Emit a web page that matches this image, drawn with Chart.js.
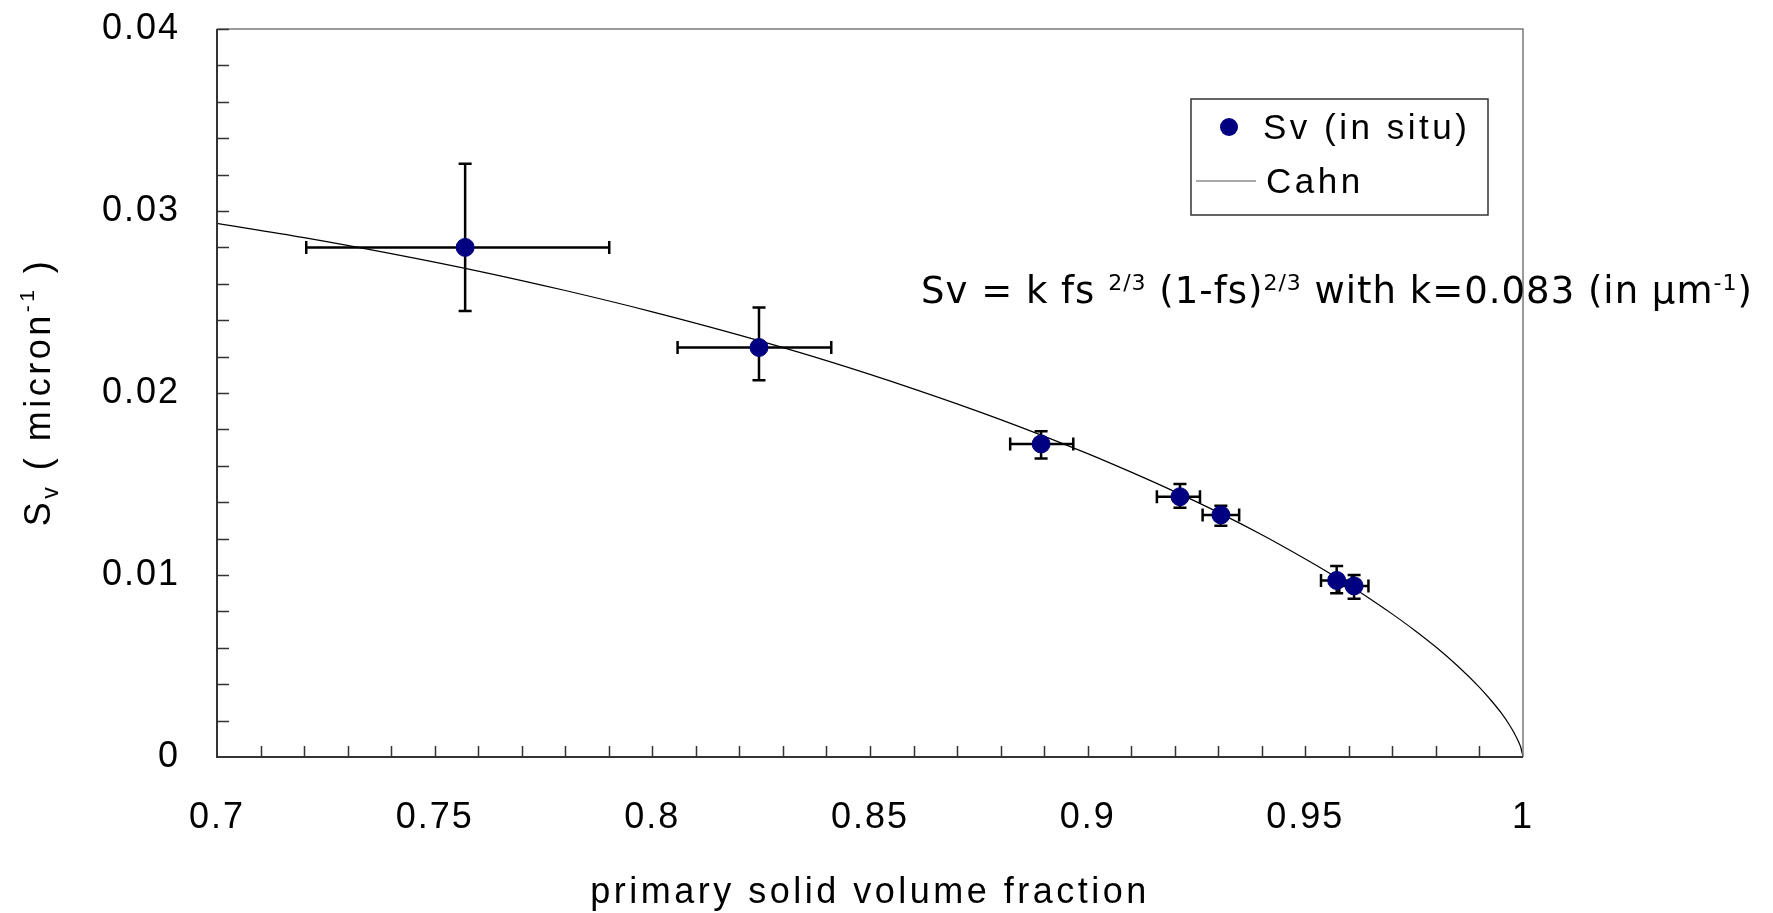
<!DOCTYPE html>
<html lang="en">
<head>
<meta charset="UTF-8">
<title>Sv vs primary solid volume fraction</title>
<script src="https://cdn.jsdelivr.net/npm/chart.js"></script>
<style>
  html, body { margin: 0; padding: 0; background: #fff; }
  .wrap { width: 1773px; height: 913px; position: relative; }
</style>
</head>
<body>
<div class="wrap"><canvas id="myChart"></canvas></div>
<script>
const fsValues = [0.757, 0.8245, 0.8893, 0.9212, 0.9306, 0.9572, 0.9612];
const svValues = [0.0280, 0.0225, 0.0172, 0.0143, 0.0133, 0.0097, 0.0094];
// error bar ends
const fsLow  = [0.7205, 0.8058, 0.8822, 0.9159, 0.9264, 0.9536, 0.9578];
const fsHigh = [0.7901, 0.8411, 0.8967, 0.9258, 0.9348, 0.9607, 0.9645];
const svLow  = [0.0245, 0.0207, 0.0164, 0.0137, 0.0127, 0.0090, 0.0087];
const svHigh = [0.0326, 0.0247, 0.0179, 0.0150, 0.0138, 0.0105, 0.0100];

// Cahn curve
const cahnFs = [0.70, 0.72, 0.74, 0.76, 0.78, 0.80, 0.82, 0.84, 0.86, 0.88, 0.90, 0.91, 0.92, 0.93, 0.94, 0.95, 0.955, 0.96, 0.965, 0.97, 0.975, 0.98, 0.985, 0.99, 0.9925, 0.995, 0.997, 0.998, 0.999, 0.9995, 1.0];
const cahnSv = [0.02932, 0.02854, 0.02766, 0.02670, 0.02563, 0.02446, 0.02318, 0.02178, 0.02023, 0.01854, 0.01667, 0.01565, 0.01458, 0.01344, 0.01221, 0.01088, 0.01018, 0.00945, 0.00867, 0.00785, 0.00698, 0.00604, 0.00500, 0.00383, 0.00316, 0.00242, 0.00172, 0.00131, 0.00083, 0.00052, 0];

// axis ticks
const xTickValues = [0.7, 0.75, 0.8, 0.85, 0.9, 0.95, 1.0];
const xTickLabels = ['0.7', '0.75', '0.8', '0.85', '0.9', '0.95', '1'];
const yTickValues = [0, 0.01, 0.02, 0.03, 0.04];
const yTickLabels = ['0', '0.01', '0.02', '0.03', '0.04'];

const FONT = '"Liberation Sans", Arial, sans-serif';
const NOTE_FONT = '"DejaVu Sans", sans-serif';
const NAVY = '#000080';

// draws a row of text pieces (for sub/superscripts)
function drawRuns(ctx, runs, x, y, family, spacing, center) {
  ctx.letterSpacing = spacing;
  let total = 0;
  runs.forEach(r => {
    ctx.font = r.size + 'px ' + family;
    r.w = ctx.measureText(r.t).width;
    total += r.w;
  });
  let cx = center ? x - total / 2 : x;
  runs.forEach(r => {
    ctx.font = r.size + 'px ' + family;
    ctx.fillText(r.t, cx, y + (r.dy || 0));
    cx += r.w;
  });
}

const decor = {
  id: 'decor',
  beforeDraw(chart) {
    chart.ctx.letterSpacing = '2px';
  },
  beforeDatasetsDraw(chart) {
    const { ctx, scales: { x, y } } = chart;
    const cap = 6.5;
    ctx.save();
    ctx.strokeStyle = '#000';
    ctx.lineWidth = 2.5;
    fsValues.forEach((fs, i) => {
      const px = x.getPixelForValue(fs);
      const py = y.getPixelForValue(svValues[i]);
      const x1 = x.getPixelForValue(fsLow[i]), x2 = x.getPixelForValue(fsHigh[i]);
      const y1 = y.getPixelForValue(svLow[i]), y2 = y.getPixelForValue(svHigh[i]);
      ctx.beginPath();
      ctx.moveTo(x1, py); ctx.lineTo(x2, py);
      ctx.moveTo(x1, py - cap); ctx.lineTo(x1, py + cap);
      ctx.moveTo(x2, py - cap); ctx.lineTo(x2, py + cap);
      ctx.moveTo(px, y1); ctx.lineTo(px, y2);
      ctx.moveTo(px - cap, y1); ctx.lineTo(px + cap, y1);
      ctx.moveTo(px - cap, y2); ctx.lineTo(px + cap, y2);
      ctx.stroke();
    });
    ctx.restore();
  },
  afterDraw(chart) {
    const { ctx, chartArea: a, scales: { x, y } } = chart;
    ctx.save();

    // top / right frame
    ctx.strokeStyle = '#7a7a7a';
    ctx.lineWidth = 1.5;
    ctx.beginPath();
    ctx.moveTo(a.left, a.top); ctx.lineTo(a.right, a.top); ctx.lineTo(a.right, a.bottom);
    ctx.stroke();

    // axes
    ctx.strokeStyle = '#333';
    ctx.lineWidth = 2;
    ctx.beginPath();
    ctx.moveTo(a.left, a.top); ctx.lineTo(a.left, a.bottom); ctx.lineTo(a.right, a.bottom);
    ctx.stroke();

    // inward tick marks
    ctx.lineWidth = 1.5;
    ctx.beginPath();
    for (let k = 1; k <= 20; k++) {
      const py = Math.round(y.getPixelForValue(k * 0.002)) + 0.5;
      ctx.moveTo(a.left, py); ctx.lineTo(a.left + 12, py);
    }
    for (let k = 1; k < 30; k++) {
      const px = Math.round(x.getPixelForValue(0.7 + k * 0.01)) + 0.5;
      ctx.moveTo(px, a.bottom); ctx.lineTo(px, a.bottom - 11);
    }
    ctx.stroke();

    ctx.fillStyle = '#000';
    ctx.textBaseline = 'alphabetic';
    ctx.textAlign = 'left';

    // x title
    drawRuns(ctx, [{ t: 'primary solid volume fraction', size: 36 }],
      (a.left + a.right) / 2, 903, FONT, '3.5px', true);

    // y title, rotated, with sub and superscript
    ctx.save();
    ctx.translate(50, 392);
    ctx.rotate(-Math.PI / 2);
    drawRuns(ctx, [
      { t: 'S', size: 36 },
      { t: 'v', size: 23, dy: 8 },
      { t: ' ( micron', size: 36 },
      { t: '-1', size: 21, dy: -16 },
      { t: ' )', size: 36 }
    ], 0, 0, FONT, '3.5px', true);
    ctx.restore();

    // legend box
    ctx.fillStyle = '#fff';
    ctx.fillRect(1191, 99, 297, 116);
    ctx.strokeStyle = '#333';
    ctx.lineWidth = 1.5;
    ctx.strokeRect(1191, 99, 297, 116);
    ctx.fillStyle = NAVY;
    ctx.beginPath();
    ctx.arc(1229, 127, 9, 0, Math.PI * 2);
    ctx.fill();
    ctx.strokeStyle = '#555';
    ctx.lineWidth = 1.2;
    ctx.beginPath();
    ctx.moveTo(1196, 181); ctx.lineTo(1256, 181);
    ctx.stroke();
    ctx.fillStyle = '#000';
    ctx.textBaseline = 'middle';
    ctx.letterSpacing = '3.5px';
    ctx.font = '35px ' + FONT;
    ctx.fillText(chart.data.datasets[0].label, 1263, 129);
    ctx.fillText(chart.data.datasets[1].label, 1266, 183);

    // Cahn formula
    ctx.textBaseline = 'alphabetic';
    drawRuns(ctx, [
      { t: 'Sv = k fs ', size: 37 },
      { t: '2/3', size: 22, dy: -13 },
      { t: ' (1-fs)', size: 37 },
      { t: '2/3', size: 22, dy: -13 },
      { t: ' with k=0.083 (in \u03bcm', size: 37 },
      { t: '-1', size: 22, dy: -13 },
      { t: ')', size: 37 }
    ], 921, 303, NOTE_FONT, '1px', false);

    ctx.restore();
  }
};

new Chart('myChart', {
  type: 'scatter',
  data: {
    datasets: [
      {
        label: 'Sv (in situ)',
        data: fsValues.map((v, i) => ({ x: v, y: svValues[i] })),
        pointRadius: 9,
        pointBackgroundColor: NAVY,
        pointBorderColor: NAVY,
        pointBorderWidth: 1,
        showLine: false
      },
      {
        label: 'Cahn',
        data: cahnFs.map((v, i) => ({ x: v, y: cahnSv[i] })),
        showLine: true,
        borderColor: '#000',
        borderWidth: 1.2,
        pointRadius: 0,
        cubicInterpolationMode: 'monotone',
        fill: false
      }
    ]
  },
  options: {
    responsive: true,
    maintainAspectRatio: false,
    animation: false,
    layout: { padding: { top: 29, right: 250, left: 0, bottom: 0 } },
    plugins: {
      legend: { display: false },
      tooltip: { enabled: false }
    },
    scales: {
      x: {
        type: 'linear',
        min: 0.7,
        max: 1.0,
        afterBuildTicks: s => { s.ticks = xTickValues.map(v => ({ value: v })); },
        afterFit: s => { s.height = 156; s.paddingLeft = 0; s.paddingRight = 0; },
        ticks: {
          callback: (v, i) => xTickLabels[i],
          font: { family: FONT, size: 36 },
          color: '#000',
          padding: 39,
          maxRotation: 0,
          autoSkip: false
        },
        grid: { display: false, drawTicks: false },
        border: { display: false }
      },
      y: {
        type: 'linear',
        min: 0,
        max: 0.04,
        afterBuildTicks: s => { s.ticks = yTickValues.map(v => ({ value: v })); },
        afterFit: s => { s.width = 217; s.paddingTop = 0; s.paddingBottom = 0; },
        ticks: {
          callback: (v, i) => yTickLabels[i],
          font: { family: FONT, size: 36 },
          color: '#000',
          padding: 37,
          autoSkip: false
        },
        grid: { display: false, drawTicks: false },
        border: { display: false }
      }
    }
  },
  plugins: [decor]
});
</script>
</body>
</html>
